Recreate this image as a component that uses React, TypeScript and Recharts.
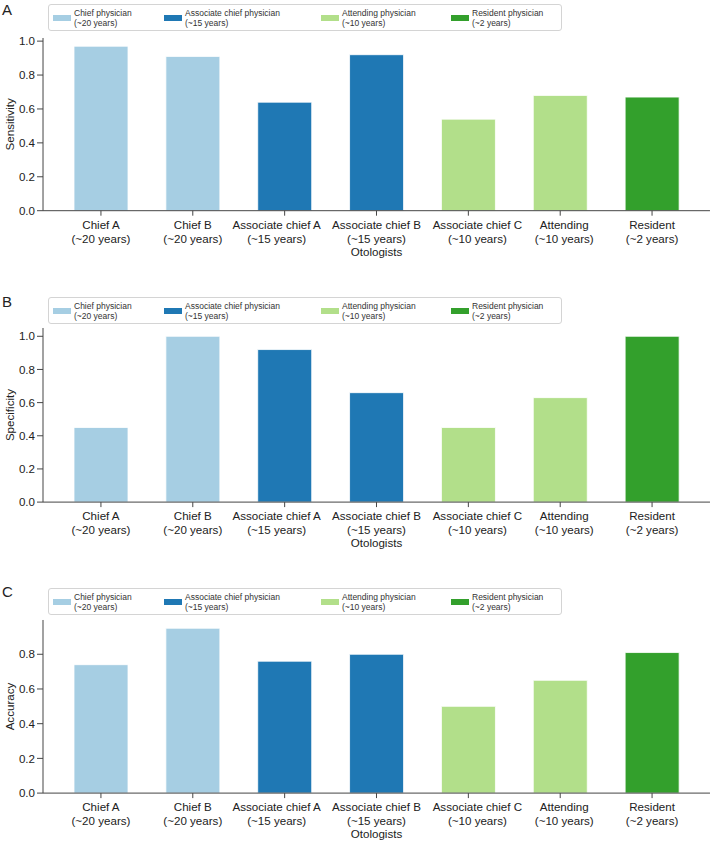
import { BarChart, Bar, XAxis, YAxis, Cell, Label } from 'recharts';

const otologists = ['Chief A', 'Chief B', 'Associate chief A', 'Associate chief B', 'Associate chief C', 'Attending', 'Resident'];
const experience = ['(~20 years)', '(~20 years)', '(~15 years)', '(~15 years)', '(~10 years)', '(~10 years)', '(~2 years)'];
const groupOf = [0, 0, 1, 1, 2, 2, 3];

const sensitivity = [0.97, 0.91, 0.64, 0.92, 0.54, 0.68, 0.67];
const specificity = [0.45, 1.0, 0.92, 0.66, 0.45, 0.63, 1.0];
const accuracy = [0.74, 0.95, 0.76, 0.8, 0.5, 0.65, 0.81];

const groupNames = ['Chief physician', 'Associate chief physician', 'Attending physician', 'Resident physician'];
const groupYears = ['(~20 years)', '(~15 years)', '(~10 years)', '(~2 years)'];
const colors = ['#a6cee3', '#1f78b4', '#b2df8a', '#33a02c'];

const ticksFull = [0, 0.2, 0.4, 0.6, 0.8, 1.0];
const ticksShort = [0, 0.2, 0.4, 0.6, 0.8];

const FONT = '"Liberation Sans", Arial, Helvetica, sans-serif';
const FS = 11.6;
const legendX = [53, 164, 321, 451];
// the original nudges a few tick labels sideways so they don't collide
const labelShift: Record<string, number> = { 'Associate chief A': -8, 'Associate chief C': 9, Attending: 4 };

function XTick(props: any) {
  const { x, y, payload } = props;
  const i = otologists.indexOf(payload.value);
  const dx = labelShift[payload.value] || 0;
  return (
    <g transform={`translate(${x + dx},${y})`}>
      <text textAnchor="middle" fill="#222" fontSize={FS} fontFamily={FONT}>
        <tspan x={0} dy="0.71em">{otologists[i]}</tspan>
        <tspan x={0} dy={14}>{experience[i]}</tspan>
      </text>
    </g>
  );
}

function LegendBox({ top }: { top: number }) {
  return (
    <div
      style={{
        position: 'absolute', left: 48, top, width: 514, height: 27,
        border: '1px solid #d4d4d4', borderRadius: 3, boxSizing: 'border-box',
        background: '#fff', fontFamily: FONT,
      }}
    >
      {groupNames.map((g, i) => (
        <div key={g} style={{ position: 'absolute', left: legendX[i] - 49, top: 0 }}>
          <div style={{ position: 'absolute', left: 0, top: 10, width: 18, height: 6, background: colors[i] }} />
          <div
            style={{
              position: 'absolute', left: 21, top: 4, fontSize: 8.5, lineHeight: '9.5px',
              color: '#333', whiteSpace: 'nowrap',
            }}
          >
            {g}
            <br />
            {groupYears[i]}
          </div>
        </div>
      ))}
    </div>
  );
}

type PanelProps = {
  letter: string;
  letterTop: number;
  legendTop: number;
  plotTop: number;
  plotBottom: number;
  yMax: number;
  ticks: number[];
  values: number[];
  yLabel: string;
};

function Panel({ letter, letterTop, legendTop, plotTop, plotBottom, yMax, ticks, values, yLabel }: PanelProps) {
  const top = plotTop - 10;
  const height = plotBottom - top + 62;
  const data = otologists.map((name, i) => ({ name, value: values[i] }));
  return (
    <>
      <div style={{ position: 'absolute', left: 0, top }}>
        <BarChart width={713} height={height} data={data} margin={{ top: 10, right: 3, bottom: 0, left: 0 }}>
          <XAxis
            dataKey="name"
            interval={0}
            height={62}
            tick={<XTick />}
            tickSize={5}
            tickMargin={5}
            stroke="#444"
            padding={{ left: 12, right: 12 }}
          >
            <Label
              content={(p: any) => (
                <text
                  x={p.viewBox.x + p.viewBox.width / 2}
                  y={p.viewBox.y + 45}
                  textAnchor="middle"
                  fill="#222"
                  fontSize={FS}
                  fontFamily={FONT}
                >
                  Otologists
                </text>
              )}
            />
          </XAxis>
          <YAxis
            type="number"
            width={43}
            domain={[0, yMax]}
            ticks={ticks}
            allowDataOverflow
            tickFormatter={(v: number) => v.toFixed(1)}
            tick={{ fill: '#222', fontSize: FS, fontFamily: FONT }}
            tickSize={6}
            stroke="#444"
          >
            <Label
              content={(p: any) => (
                <text
                  transform={`translate(10, ${p.viewBox.y + p.viewBox.height / 2}) rotate(-90)`}
                  textAnchor="middle"
                  dy="0.35em"
                  fill="#222"
                  fontSize={FS}
                  fontFamily={FONT}
                >
                  {yLabel}
                </text>
              )}
            />
          </YAxis>
          <Bar dataKey="value" barSize={54} isAnimationActive={false} stroke="#ffffff" strokeWidth={0.8}>
            {data.map((d, i) => (
              <Cell key={d.name} fill={colors[groupOf[i]]} />
            ))}
          </Bar>
        </BarChart>
      </div>
      <LegendBox top={legendTop} />
      <div style={{ position: 'absolute', left: 2, top: letterTop, fontSize: 15, lineHeight: '15px', color: '#222', fontFamily: FONT }}>
        {letter}
      </div>
    </>
  );
}

export default function App() {
  return (
    <div style={{ position: 'relative', width: 713, height: 843, overflow: 'hidden', background: '#fff' }}>
      <style>{'body { margin: 0; }'}</style>
      <Panel letter="A" letterTop={2} legendTop={4} plotTop={38} plotBottom={210.7} yMax={0.97 * 1.05} ticks={ticksFull} values={sensitivity} yLabel="Sensitivity" />
      <Panel letter="B" letterTop={294} legendTop={297} plotTop={328.4} plotBottom={502.5} yMax={1.05} ticks={ticksFull} values={specificity} yLabel="Specificity" />
      <Panel letter="C" letterTop={584} legendTop={588} plotTop={620.2} plotBottom={793.3} yMax={0.95 * 1.05} ticks={ticksShort} values={accuracy} yLabel="Accuracy" />
    </div>
  );
}
